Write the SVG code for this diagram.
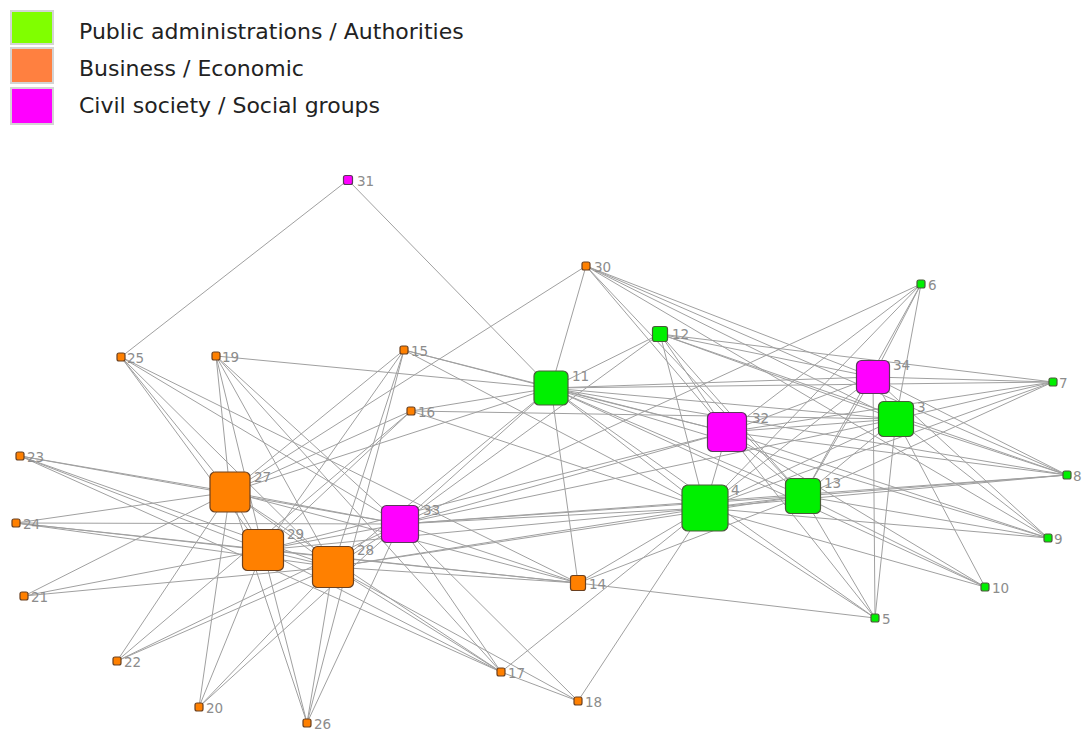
<svg xmlns="http://www.w3.org/2000/svg" width="1083" height="731" viewBox="0 0 1083 731">
<style>
.e{stroke:#a0a0a0;stroke-width:1;fill:none}
.g{fill:#00f000;stroke:#4a5a3a;stroke-width:1.2}
.o{fill:#ff8000;stroke:#6a4020;stroke-width:1.2}
.m{fill:#ff00ff;stroke:#5a3a5a;stroke-width:1.2}
.l{font-family:"DejaVu Sans",Verdana,sans-serif;font-size:13.5px;fill:#8c8c8c}
.lg{font-family:"DejaVu Sans",Verdana,sans-serif;font-size:22px;fill:#222}
.sw{stroke:#d4d4d4;stroke-width:2}
</style>
<rect width="1083" height="731" fill="#fff"/>
<g id="legend">
<rect class="sw" x="11" y="11" width="42" height="33" fill="#80ff00"/>
<rect class="sw" x="11" y="48" width="42" height="35" fill="#ff8040"/>
<rect class="sw" x="11" y="88" width="42" height="36" fill="#ff00ff"/>
<text class="lg" x="79" y="39">Public administrations / Authorities</text>
<text class="lg" x="79" y="76">Business / Economic</text>
<text class="lg" x="79" y="113">Civil society / Social groups</text>
</g>
<g id="connectors" class="e">
<path d="M348 180L121 357M348 180L551 388"/>
<path d="M586 266L230 492M586 266L551 388M586 266L803 496M586 266L727 432M586 266L873 377M586 266L896 419M586 266L1067 475M586 266L1048 538"/>
<path d="M121 357L230 492M121 357L263 550M121 357L333 567M121 357L400 524M121 357L578 583"/>
<path d="M216 356L551 388M216 356L230 492M216 356L263 550M216 356L333 567M216 356L400 524M216 356L501 672"/>
<path d="M404 350L551 388M404 350L705 508M404 350L230 492M404 350L263 550M404 350L333 567M404 350L307 723M404 350L727 432"/>
<path d="M411 411L551 388M411 411L896 419M411 411L705 508M411 411L263 550M411 411L117 661M411 411L230 492"/>
<path d="M20 456L230 492M20 456L400 524M20 456L263 550M20 456L333 567M20 456L501 672"/>
<path d="M16 523L230 492M16 523L400 524M16 523L263 550M16 523L333 567M16 523L578 583"/>
<path d="M24 596L230 492M24 596L263 550M24 596L333 567"/>
<path d="M117 661L230 492M117 661L333 567M117 661L400 524"/>
<path d="M199 707L230 492M199 707L263 550M199 707L333 567M199 707L400 524"/>
<path d="M307 723L230 492M307 723L263 550M307 723L333 567M307 723L400 524"/>
<path d="M501 672L333 567M501 672L263 550M501 672L230 492M501 672L400 524M501 672L705 508M501 672L578 701"/>
<path d="M578 701L333 567M578 701L400 524M578 701L705 508"/>
<path d="M578 583L551 388M578 583L333 567M578 583L263 550M578 583L400 524M578 583L705 508M578 583L803 496M578 583L875 618M578 583L230 492"/>
<path d="M660 334L551 388M660 334L400 524M660 334L727 432M660 334L705 508M660 334L803 496M660 334L873 377M660 334L896 419M660 334L1067 475M660 334L1053 382"/>
<path d="M921 284L400 524M921 284L727 432M921 284L873 377M921 284L803 496M921 284L896 419M921 284L705 508"/>
<path d="M1053 382L873 377M1053 382L896 419M1053 382L727 432M1053 382L803 496M1053 382L705 508M1053 382L551 388"/>
<path d="M1067 475L873 377M1067 475L896 419M1067 475L727 432M1067 475L551 388M1067 475L803 496M1067 475L705 508M1067 475L400 524"/>
<path d="M1048 538L896 419M1048 538L873 377M1048 538L705 508M1048 538L803 496M1048 538L727 432M1048 538L551 388"/>
<path d="M985 587L896 419M985 587L705 508M985 587L803 496M985 587L727 432M985 587L551 388"/>
<path d="M875 618L873 377M875 618L896 419M875 618L803 496M875 618L705 508M875 618L727 432M875 618L551 388"/>
<path d="M230 492L263 550M230 492L333 567M263 550L333 567M230 492L400 524M263 550L400 524M333 567L400 524"/>
<path d="M400 524L705 508M400 524L551 388M400 524L803 496M400 524L896 419M400 524L727 432"/>
<path d="M551 388L333 567M551 388L230 492M551 388L727 432M551 388L705 508M551 388L803 496M551 388L896 419M551 388L873 377"/>
<path d="M727 432L705 508M727 432L803 496M727 432L896 419M727 432L873 377M727 432L263 550"/>
<path d="M705 508L803 496M705 508L896 419M705 508L873 377M705 508L333 567M705 508L263 550"/>
<path d="M803 496L896 419M803 496L873 377M803 496L333 567M896 419L873 377"/>
</g>
<g id="n31"><rect class="m" x="343.5" y="175.5" width="9" height="9" rx="2"/><text class="l" x="357" y="186">31</text></g>
<g id="n30"><rect class="o" x="582" y="262" width="8" height="8" rx="2"/><text class="l" x="594" y="272">30</text></g>
<g id="n6"><rect class="g" x="917" y="280" width="8" height="8" rx="2"/><text class="l" x="928" y="290">6</text></g>
<g id="n12"><rect class="g" x="652.5" y="326.5" width="15" height="15" rx="2.5"/><text class="l" x="672" y="339">12</text></g>
<g id="n25"><rect class="o" x="117" y="353" width="8" height="8" rx="2"/><text class="l" x="127" y="363">25</text></g>
<g id="n19"><rect class="o" x="212" y="352" width="8" height="8" rx="2"/><text class="l" x="222" y="362">19</text></g>
<g id="n15"><rect class="o" x="400" y="346" width="8" height="8" rx="2"/><text class="l" x="411" y="356">15</text></g>
<g id="n16"><rect class="o" x="407" y="407" width="8" height="8" rx="2"/><text class="l" x="418" y="417">16</text></g>
<g id="n11"><rect class="g" x="534" y="371" width="34" height="34" rx="5"/><text class="l" x="572" y="381">11</text></g>
<g id="n34"><rect class="m" x="856.5" y="360.5" width="33" height="33" rx="5"/><text class="l" x="893" y="370">34</text></g>
<g id="n7"><rect class="g" x="1049" y="378" width="8" height="8" rx="2"/><text class="l" x="1059" y="388">7</text></g>
<g id="n32"><rect class="m" x="707.5" y="412.5" width="39" height="39" rx="5"/><text class="l" x="752" y="423">32</text></g>
<g id="n3"><rect class="g" x="878.5" y="401.5" width="35" height="35" rx="5"/><text class="l" x="917" y="412">3</text></g>
<g id="n23"><rect class="o" x="16" y="452" width="8" height="8" rx="2"/><text class="l" x="27" y="462">23</text></g>
<g id="n8"><rect class="g" x="1063" y="471" width="8" height="8" rx="2"/><text class="l" x="1073" y="481">8</text></g>
<g id="n27"><rect class="o" x="210" y="472" width="40" height="40" rx="5"/><text class="l" x="254" y="482">27</text></g>
<g id="n13"><rect class="g" x="785.5" y="478.5" width="35" height="35" rx="5"/><text class="l" x="824" y="488">13</text></g>
<g id="n4"><rect class="g" x="682" y="485" width="46" height="46" rx="6"/><text class="l" x="731" y="495">4</text></g>
<g id="n33"><rect class="m" x="381.5" y="505.5" width="37" height="37" rx="5"/><text class="l" x="423" y="515">33</text></g>
<g id="n24"><rect class="o" x="12" y="519" width="8" height="8" rx="2"/><text class="l" x="23" y="529">24</text></g>
<g id="n29"><rect class="o" x="242.5" y="529.5" width="41" height="41" rx="5"/><text class="l" x="287" y="539">29</text></g>
<g id="n28"><rect class="o" x="312.5" y="546.5" width="41" height="41" rx="5"/><text class="l" x="357" y="555">28</text></g>
<g id="n9"><rect class="g" x="1044" y="534" width="8" height="8" rx="2"/><text class="l" x="1054" y="544">9</text></g>
<g id="n14"><rect class="o" x="570.5" y="575.5" width="15" height="15" rx="2.5"/><text class="l" x="589" y="589">14</text></g>
<g id="n10"><rect class="g" x="981" y="583" width="8" height="8" rx="2"/><text class="l" x="992" y="593">10</text></g>
<g id="n21"><rect class="o" x="20" y="592" width="8" height="8" rx="2"/><text class="l" x="31" y="602">21</text></g>
<g id="n5"><rect class="g" x="871" y="614" width="8" height="8" rx="2"/><text class="l" x="882" y="624">5</text></g>
<g id="n22"><rect class="o" x="113" y="657" width="8" height="8" rx="2"/><text class="l" x="124" y="667">22</text></g>
<g id="n17"><rect class="o" x="497" y="668" width="8" height="8" rx="2"/><text class="l" x="508" y="678">17</text></g>
<g id="n18"><rect class="o" x="574" y="697" width="8" height="8" rx="2"/><text class="l" x="585" y="707">18</text></g>
<g id="n20"><rect class="o" x="195" y="703" width="8" height="8" rx="2"/><text class="l" x="206" y="713">20</text></g>
<g id="n26"><rect class="o" x="303" y="719" width="8" height="8" rx="2"/><text class="l" x="314" y="729">26</text></g>
</svg>
